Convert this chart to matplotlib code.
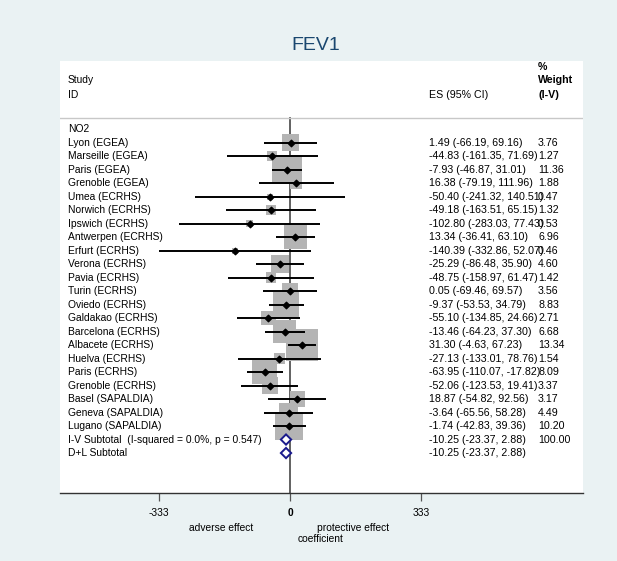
#!/usr/bin/env python3

import matplotlib.pyplot as plt
from matplotlib.transforms import blended_transform_factory

# study rows (NO2 header row sits above them)
studies = [
    "Lyon (EGEA)", "Marseille (EGEA)", "Paris (EGEA)", "Grenoble (EGEA)",
    "Umea (ECRHS)", "Norwich (ECRHS)", "Ipswich (ECRHS)", "Antwerpen (ECRHS)",
    "Erfurt (ECRHS)", "Verona (ECRHS)", "Pavia (ECRHS)", "Turin (ECRHS)",
    "Oviedo (ECRHS)", "Galdakao (ECRHS)", "Barcelona (ECRHS)",
    "Albacete (ECRHS)", "Huelva (ECRHS)", "Paris (ECRHS)",
    "Grenoble (ECRHS)", "Basel (SAPALDIA)", "Geneva (SAPALDIA)",
    "Lugano (SAPALDIA)",
]
es = [1.49, -44.83, -7.93, 16.38, -50.40, -49.18, -102.80, 13.34, -140.39,
      -25.29, -48.75, 0.05, -9.37, -55.10, -13.46, 31.30, -27.13, -63.95,
      -52.06, 18.87, -3.64, -1.74]
lo = [-66.19, -161.35, -46.87, -79.19, -241.32, -163.51, -283.03, -36.41,
      -332.86, -86.48, -158.97, -69.46, -53.53, -134.85, -64.23, -4.63,
      -133.01, -110.07, -123.53, -54.82, -65.56, -42.83]
hi = [69.16, 71.69, 31.01, 111.96, 140.51, 65.15, 77.43, 63.10, 52.07, 35.90,
      61.47, 69.57, 34.79, 24.66, 37.30, 67.23, 78.76, -17.82, 19.41, 92.56,
      58.28, 39.36]
weights = [3.76, 1.27, 11.36, 1.88, 0.47, 1.32, 0.53, 6.96, 0.46, 4.60, 1.42,
           3.56, 8.83, 2.71, 6.68, 13.34, 1.54, 8.09, 3.37, 3.17, 4.49, 10.20]

subtotals = ["I-V Subtotal  (I-squared = 0.0%, p = 0.547)", "D+L Subtotal"]
sub_es = [-10.25, -10.25]
sub_lo = [-23.37, -23.37]
sub_hi = [2.88, 2.88]
sub_w = ["100.00", ""]

ticks = [-333, 0, 333]

bg = "#eaf2f3"
fig = plt.figure(figsize=(6.17, 5.61), dpi=100, facecolor=bg)
plt.rcParams["font.family"] = ["Liberation Sans", "DejaVu Sans"]
ax = fig.add_axes([60 / 617, 1 - 493 / 561, 523 / 617, 432 / 561])
ax.set_facecolor("white")

ax.set_xlim(-585, 745)
ax.set_ylim(26.96, -5.04)

rows = list(range(1, len(studies) + 1))
srows = [len(studies) + 1 + k for k in range(len(subtotals))]

# null line
ax.plot([0, 0], [-0.85, 27], color="#555555", lw=1.3, zorder=1)
ax.axhline(-0.85, color="#c8c8c8", lw=1.0, zorder=1)

# weight boxes, side ~ sqrt(weight)
sides = [32 * (w / 13.34) ** 0.5 * 0.72 for w in weights]
ax.scatter(es, rows, s=[d ** 2 for d in sides], marker="s",
           color="#b4b4b4", linewidths=0, zorder=2)
ax.hlines(rows, lo, hi, color="black", lw=1.4, zorder=3)
ax.scatter(es, rows, s=11, marker="D", color="black", zorder=4)

for r, m, a, b in zip(srows, sub_es, sub_lo, sub_hi):
    ax.fill([a, m, b, m, a], [r, r - 0.38, r, r + 0.38, r],
            facecolor="white", edgecolor="#1a1a8c", lw=1.4, zorder=5)

tr = blended_transform_factory(ax.transAxes, ax.transData)
fs = 7.7      # numbers columns
fs_lab = 7.4  # study labels
x_lab, x_es, x_w = 0.0153, 0.7055, 0.914

ax.text(x_lab, -3.6, "Study", transform=tr, fontsize=fs_lab, va="center")
ax.text(x_lab, -2.55, "ID", transform=tr, fontsize=fs_lab, va="center")
ax.text(x_es, -2.55, "ES (95% CI)", transform=tr, fontsize=fs, va="center")
ax.text(x_w, -4.6, "%", transform=tr, fontsize=fs, va="center",
        fontweight="bold")
ax.text(x_w, -3.6, "Weight", transform=tr, fontsize=fs, va="center",
        fontweight="bold")
ax.text(x_w, -2.55, "(I-V)", transform=tr, fontsize=fs, va="center",
        fontweight="bold")
ax.text(x_lab, 0, "NO2", transform=tr, fontsize=fs_lab, va="center")

for r, name, m, a, b, w in zip(rows, studies, es, lo, hi, weights):
    ax.text(x_lab, r, name, transform=tr, fontsize=fs_lab, va="center")
    ax.text(x_es, r, f"{m:.2f} ({a:.2f}, {b:.2f})", transform=tr,
            fontsize=fs, va="center")
    ax.text(x_w, r, f"{w:.2f}", transform=tr, fontsize=fs, va="center")

for r, name, m, a, b, w in zip(srows, subtotals, sub_es, sub_lo, sub_hi, sub_w):
    ax.text(x_lab, r, name, transform=tr, fontsize=fs_lab, va="center")
    ax.text(x_es, r, f"{m:.2f} ({a:.2f}, {b:.2f})", transform=tr,
            fontsize=fs, va="center")
    ax.text(x_w, r, w, transform=tr, fontsize=fs, va="center")

# axis styling
for side in ["top", "right", "left"]:
    ax.spines[side].set_visible(False)
ax.spines["bottom"].set_color("#333333")
ax.spines["bottom"].set_linewidth(1.0)
ax.set_yticks([])
ax.set_xticks(ticks)
ax.set_xticklabels([str(t) for t in ticks])
ax.tick_params(axis="x", length=6, width=0.9, color="#555555",
               labelsize=fs_lab, pad=5)
ax.get_xticklabels()[1].set_fontweight("bold")

fig.text(221 / 617, 1 - 528 / 561, "adverse effect", fontsize=fs_lab,
         ha="center", va="center")
fig.text(353 / 617, 1 - 528 / 561, "protective effect", fontsize=fs_lab,
         ha="center", va="center")
fig.text(321 / 617, 1 - 539 / 561, "coefficient", fontsize=fs_lab,
         ha="center", va="center")
fig.text(316 / 617, 1 - 45 / 561, "FEV1", fontsize=14, color="#1a476f",
         ha="center", va="center")

fig.savefig("out.png", dpi=100, facecolor=bg)
